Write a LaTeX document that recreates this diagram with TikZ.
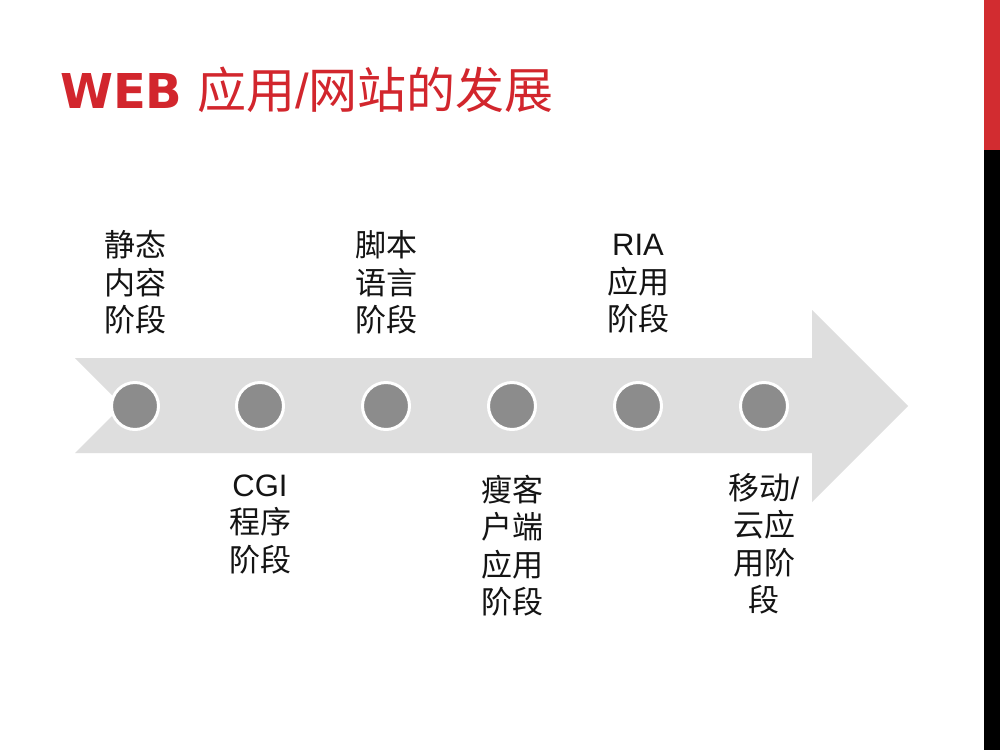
\documentclass[tikz,border=0pt]{standalone}
\usepackage{fontspec}
\newfontfamily\cjk{Noto Sans CJK SC}
\newfontfamily\webfont{DejaVu Sans}
\newfontfamily\lat{Liberation Sans}
\definecolor{titlered}{RGB}{210,38,45}
\definecolor{barred}{RGB}{210,44,48}
\definecolor{arrowgray}{RGB}{222,222,222}
\definecolor{dotgray}{RGB}{140,140,140}
\definecolor{labeltext}{RGB}{20,20,20}
\tikzset{
  dot/.style={circle, fill=dotgray, draw=white, line width=3pt, minimum size=47pt, inner sep=0pt},
  stagelabel/.style={align=center, inner sep=0pt, text=labeltext,
    font=\cjk\fontsize{31}{37.5}\selectfont},
}
\begin{document}
\begin{tikzpicture}[x=1pt,y=-1pt]
\useasboundingbox (0,0) rectangle (1000,750);
\fill[white] (0,0) rectangle (1000,750);
% right bar
\fill[barred] (984,0) rectangle (1000,150);
\fill[black] (984,150) rectangle (1000,750);
% title
\node[anchor=base west, inner sep=0pt, text=titlered, font=\webfont\bfseries\fontsize{48}{56}\selectfont] (tweb) at (60,108) {WEB};
\node[anchor=base west, inner sep=0pt, text=titlered, font=\cjk\fontsize{49}{60}\selectfont] (tcjk) at (197,108) {应用{\lat/}网站的发展};
% arrow
\fill[arrowgray] (75,358) -- (812,358) -- (812,310) -- (908,406) -- (812,502) -- (812,453) -- (75,453) -- (122.5,405.5) -- cycle;
% dots
\node[dot] (c1) at (135,406) {};
\node[dot] (c2) at (260,406) {};
\node[dot] (c3) at (386,406) {};
\node[dot] (c4) at (512,406) {};
\node[dot] (c5) at (638,406) {};
\node[dot] (c6) at (764,406) {};
% labels
\node[stagelabel] (l1) at (135,282.5) {静态\\内容\\阶段};
\node[stagelabel] (l3) at (386,282.5) {脚本\\语言\\阶段};
\node[stagelabel] (l5) at (638,284) {{\lat RIA}\\应用\\阶段};
\node[stagelabel] (l2) at (260,524) {{\lat CGI}\\程序\\阶段};
\node[stagelabel] (l4) at (512,545.5) {瘦客\\户端\\应用\\阶段};
\node[stagelabel] (l6) at (764,544) {移动{\lat/}\\云应\\用阶\\段};
\end{tikzpicture}
\end{document}
